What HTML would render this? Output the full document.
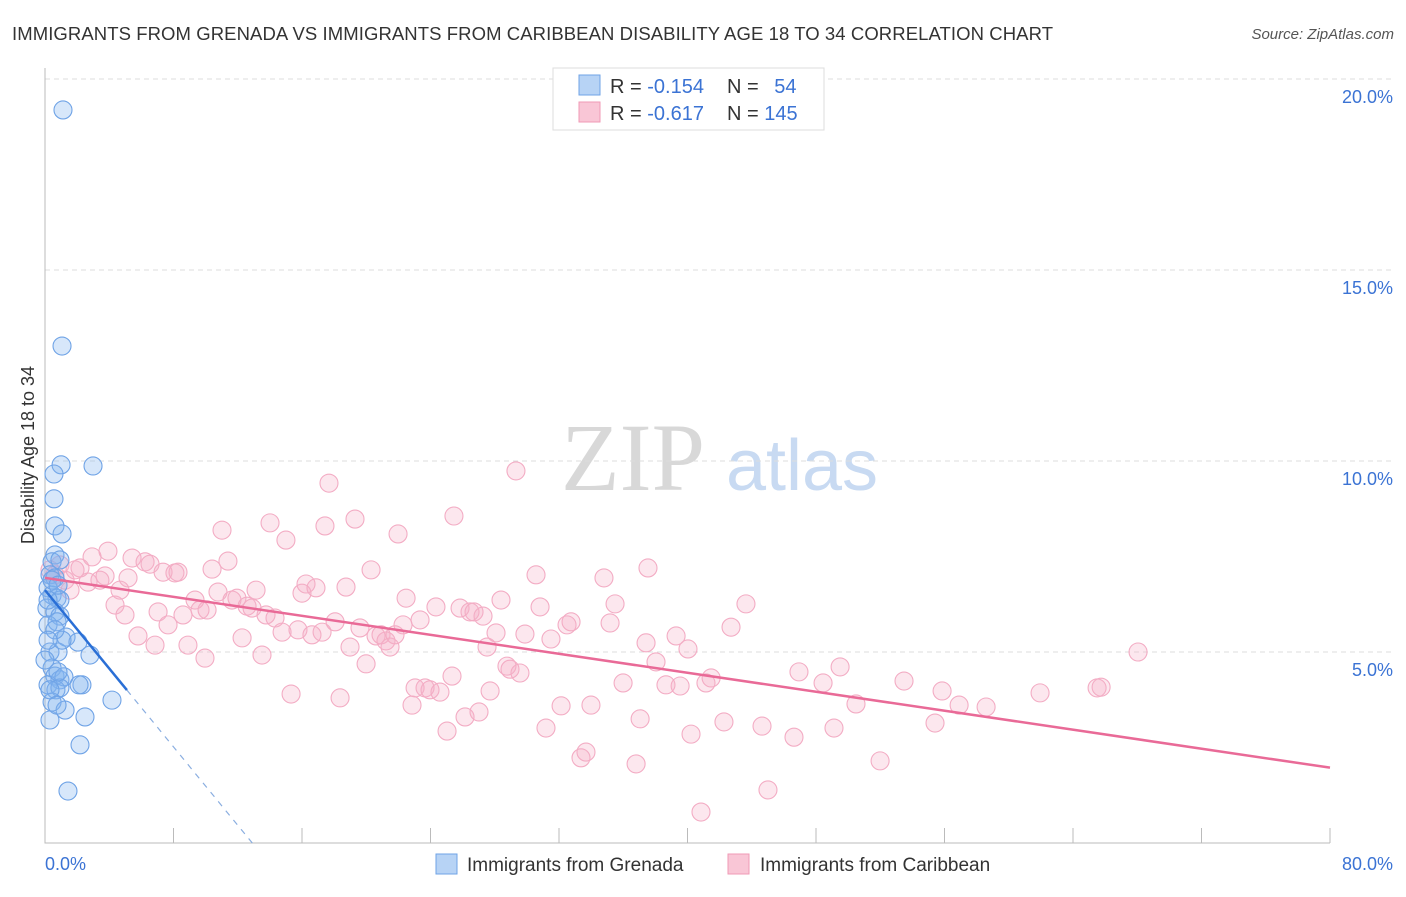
<!DOCTYPE html>
<html><head><meta charset="utf-8"><style>
body{margin:0;background:#fff;font-family:"Liberation Sans",sans-serif;}
svg text{font-family:"Liberation Sans",sans-serif;}
</style></head><body>
<svg id="chart" width="1406" height="892" xmlns="http://www.w3.org/2000/svg">
<text x="12" y="40" font-size="18.5" fill="#333" textLength="1041">IMMIGRANTS FROM GRENADA VS IMMIGRANTS FROM CARIBBEAN DISABILITY AGE 18 TO 34 CORRELATION CHART</text>
<text x="1394" y="39" font-size="15" fill="#555" font-style="italic" text-anchor="end">Source: ZipAtlas.com</text>
<g>
<text x="633" y="490" font-size="96" fill="#d8d8d8" text-anchor="middle" font-family="Liberation Serif" style="font-family:'Liberation Serif',serif">ZIP</text>
<text x="802" y="490" font-size="72" fill="#c8daf2" text-anchor="middle">atlas</text>
</g>
<g id="grid"></g>
<g id="axes"></g>
<g id="pts"></g>
<g id="lines"></g>
<text transform="translate(34,455) rotate(-90)" font-size="18" fill="#333" text-anchor="middle">Disability Age 18 to 34</text>
<g>
<rect x="553" y="68" width="271" height="62" fill="#fff" stroke="#ddd"/>
<rect x="579" y="75" width="21" height="20" fill="#b7d3f5" stroke="#6fa3e6"/>
<rect x="579" y="102" width="21" height="20" fill="#f9c6d6" stroke="#f09ab6"/>
<text x="610" y="93" font-size="20" fill="#333">R = <tspan fill="#3b73d4">-0.154</tspan></text>
<text x="727" y="93" font-size="20" fill="#333">N = <tspan fill="#3b73d4" dx="10">54</tspan></text>
<text x="610" y="120" font-size="20" fill="#333">R = <tspan fill="#3b73d4">-0.617</tspan></text>
<text x="727" y="120" font-size="20" fill="#333">N = <tspan fill="#3b73d4">145</tspan></text>
</g>
<g>
<rect x="436" y="854" width="21" height="20" fill="#b7d3f5" stroke="#6fa3e6"/>
<text x="467" y="871" font-size="19" fill="#333">Immigrants from Grenada</text>
<rect x="728" y="854" width="21" height="20" fill="#f9c6d6" stroke="#f09ab6"/>
<text x="760" y="871" font-size="19" fill="#333">Immigrants from Caribbean</text>
</g>
</svg>
<script>
const xTicksLabels=["0.0%","80.0%"];
const yTicks=[5,10,15,20];
const yTickLabels=["5.0%","10.0%","15.0%","20.0%"];
const blueX=[1.12,1.06,2.99,1.00,0.56,0.56,0.62,1.06,0.62,0.44,0.31,0.62,0.19,0.44,0.75,0.93,0.12,0.62,0.93,0.19,0.75,1.31,2.05,2.80,0.31,0.81,0.44,0.62,0.93,1.18,0.19,0.68,0.93,2.30,2.12,4.17,0.44,1.25,2.49,2.18,1.43,0.31,0.81,1.06,0.19,0.44,0.81,0.62,0.31,0.75,0.00,0.19,0.93];
const blueY=[19.19,13.01,9.87,9.90,9.66,9.01,8.30,8.09,7.54,7.36,7.02,6.94,6.68,6.49,6.41,6.36,6.15,6.05,5.94,5.71,5.79,5.39,5.26,4.92,5.00,5.00,4.58,4.37,4.27,4.35,4.14,4.01,4.06,4.14,4.14,3.74,3.69,3.48,3.30,2.57,1.36,4.01,4.48,5.31,6.36,6.88,6.75,5.58,3.22,3.61,4.79,5.31,7.41];
const pinkX=[0.31,0.62,0.93,1.25,1.56,1.87,2.18,2.68,2.93,3.42,3.74,3.92,4.36,4.67,4.98,5.17,5.42,5.79,6.23,6.54,6.85,7.04,7.35,7.66,8.09,8.28,8.59,8.90,9.34,9.65,9.96,10.09,10.40,10.77,11.02,11.39,11.64,11.95,12.27,12.58,12.89,13.14,13.51,13.76,14.01,14.32,14.76,15.00,15.32,15.75,16.00,16.25,16.62,16.87,17.25,17.43,17.68,18.06,18.37,18.74,18.99,19.30,19.61,19.99,20.30,20.61,20.92,21.23,21.48,21.79,21.98,22.29,22.48,22.85,23.04,23.35,23.66,23.97,24.34,24.59,25.03,25.34,25.46,25.84,26.15,26.46,26.71,27.02,27.27,27.52,27.71,28.08,28.39,28.76,28.95,29.32,29.57,29.88,30.57,30.82,31.19,31.50,32.13,32.50,32.75,33.37,33.68,33.99,34.80,35.18,35.49,35.99,36.80,37.05,37.42,37.54,38.04,38.66,39.29,39.54,40.03,40.22,40.84,41.15,41.47,42.27,42.71,43.64,44.64,46.63,46.94,48.44,49.12,49.50,50.49,51.99,53.48,55.41,55.85,56.91,58.59,61.95,65.50,65.75,68.05,45.01];
const pinkY=[7.15,7.02,7.28,6.88,6.62,7.15,7.20,6.83,7.49,6.88,6.99,7.64,6.23,6.62,5.97,6.94,7.46,5.42,7.36,7.30,5.18,6.05,7.09,5.71,7.07,7.09,5.97,5.18,6.36,6.10,4.84,6.10,7.17,6.57,8.19,7.38,6.36,6.41,5.37,6.20,6.15,6.62,4.92,5.97,8.38,5.89,5.52,7.93,3.90,5.58,6.54,6.78,5.45,6.68,5.52,8.30,9.42,5.79,3.80,6.70,5.13,8.48,5.63,4.69,7.15,5.42,5.45,5.29,5.13,5.45,8.09,5.71,6.41,3.61,4.06,5.84,4.06,4.01,6.18,3.95,2.93,4.37,8.56,6.15,3.30,6.05,6.05,3.43,5.94,5.13,3.98,5.50,6.36,4.63,4.55,9.74,4.45,5.47,7.02,6.18,3.01,5.34,3.59,5.71,5.79,2.23,2.38,3.61,6.94,5.76,6.26,4.19,2.07,3.25,5.24,7.20,4.74,4.14,5.42,4.11,5.08,2.85,0.81,4.19,4.32,3.17,5.65,6.26,3.06,2.77,4.48,4.19,3.01,4.61,3.64,2.15,4.24,3.14,3.98,3.61,3.56,3.93,4.06,4.08,5.00,1.39];
const blueLine=[6.62,-0.513];
const pinkLine=[6.94,-0.0621];
const NS="http://www.w3.org/2000/svg";
const X=v=>45+v*1285/80, Y=v=>843-v*38.2;
function mk(t,a,p){const e=document.createElementNS(NS,t);for(const k in a)e.setAttribute(k,a[k]);p.appendChild(e);return e;}
const grid=document.getElementById('grid'),axes=document.getElementById('axes'),pts=document.getElementById('pts'),lines=document.getElementById('lines');
yTicks.forEach((v,i)=>{
 const l=mk('line',{x1:45,x2:1392,y1:Y(v),y2:Y(v),stroke:'#ddd','stroke-dasharray':'5,4'},grid);
 
 
 const t=mk('text',{x:1393,y:Y(v)+24,'font-size':18,fill:'#3b73d4','text-anchor':'end'},axes);
 t.textContent=yTickLabels[i];
 
 
});
const ax=mk('path',{d:'M45 68V843H1330',stroke:'#bbb',fill:'none'},axes);


for(let i=1;i<=10;i++){const tk=mk('line',{x1:X(i*8),x2:X(i*8),y1:828,y2:843,stroke:'#bbb'},axes);
 
 }
[[0,'start',45],[80,'end',1393]].forEach((d,i)=>{const t=mk('text',{x:d[2],y:870,'font-size':18,fill:'#3b73d4','text-anchor':d[1]},axes);t.textContent=xTicksLabels[i];
 
 });
pinkX.forEach((x,i)=>{const c=mk('circle',{cx:X(x),cy:Y(pinkY[i]),r:9,fill:'rgba(246,175,200,0.3)',stroke:'#f3acc4','stroke-width':1.1},pts);
 
 });
blueX.forEach((x,i)=>{const c=mk('circle',{cx:X(x),cy:Y(blueY[i]),r:9,fill:'rgba(130,180,240,0.32)',stroke:'#6fa3e6','stroke-width':1.1},pts);
 
 });
const pl=mk('line',{x1:X(0),y1:Y(pinkLine[0]),x2:X(80),y2:Y(pinkLine[0]+pinkLine[1]*80),stroke:'#e96a97','stroke-width':2.5},lines);


const bx=5.1, bz=-blueLine[0]/blueLine[1];
const bl=mk('line',{x1:X(0),y1:Y(blueLine[0]),x2:X(bx),y2:Y(blueLine[0]+blueLine[1]*bx),stroke:'#2a6fd6','stroke-width':2.5},lines);


const bd=mk('line',{x1:X(bx),y1:Y(blueLine[0]+blueLine[1]*bx),x2:X(bz),y2:Y(0),stroke:'#8aaee0','stroke-width':1.2,'stroke-dasharray':'6,6'},lines);


</script>
</body></html>
